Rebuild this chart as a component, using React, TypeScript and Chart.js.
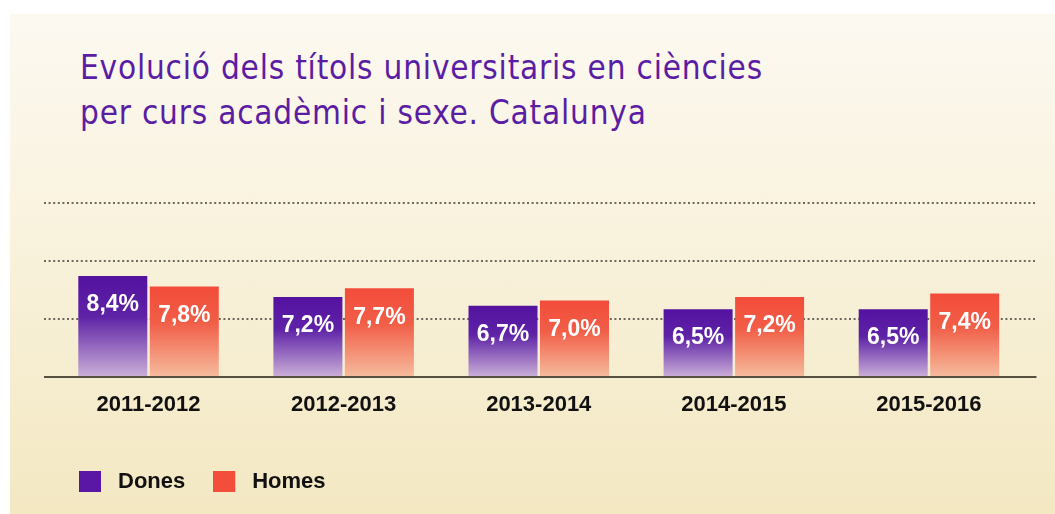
import React, { useEffect, useRef } from 'react';
import { Chart, registerables } from 'chart.js';

Chart.register(...registerables);

// ---- data ----
const categories = ['2011-2012', '2012-2013', '2013-2014', '2014-2015', '2015-2016'];
const seriesNames = ['Dones', 'Homes'];
const donesValues = [8.4, 7.2, 6.7, 6.5, 6.5];
const homesValues = [7.8, 7.7, 7.0, 7.2, 7.4];
const gridLevels = [5.93, 9.27, 12.6];
const axisMin = 2.6;
const axisMax = 12.6;
const titleLines = [
  'Evolució dels títols universitaris en ciències',
  'per curs acadèmic i sexe. Catalunya',
];

const PURPLE = '#5a16a4';
const RED = '#f24e3b';
const purpleStops: [number, string][] = [
  [0, '#5412a0'],
  [0.4, '#5e22a6'],
  [1, '#cbb0d8'],
];
const redStops: [number, string][] = [
  [0, '#f24c3a'],
  [0.4, '#f15e47'],
  [1, '#f6bc9e'],
];

function barGradient(stops: [number, string][], solid: string) {
  return (ctx: any) => {
    const chart = ctx.chart;
    if (!chart.chartArea || ctx.type !== 'data') return solid;
    const y = chart.scales.y;
    const top = y.getPixelForValue(ctx.raw);
    const bottom = y.getPixelForValue(axisMin);
    if (!isFinite(top) || !isFinite(bottom) || top === bottom) return solid;
    const g = chart.ctx.createLinearGradient(0, top, 0, bottom);
    stops.forEach(([o, c]) => g.addColorStop(o, c));
    return g;
  };
}

function squareIcon(color: string) {
  const c = document.createElement('canvas');
  c.width = 28;
  c.height = 21;
  const x = c.getContext('2d')!;
  x.fillStyle = color;
  x.fillRect(0, 0, 22, 21);
  return c;
}

const gridPlugin = {
  id: 'dottedGrid',
  beforeDatasetsDraw(chart: any) {
    const { ctx, chartArea } = chart;
    const y = chart.scales.y;
    ctx.save();
    ctx.strokeStyle = 'rgba(85,80,70,0.85)';
    ctx.lineWidth = 2;
    ctx.setLineDash([2, 2.6]);
    gridLevels.forEach((v) => {
      const py = Math.round(y.getPixelForValue(v));
      ctx.beginPath();
      ctx.moveTo(chartArea.left - 7, py);
      ctx.lineTo(chartArea.right + 11, py);
      ctx.stroke();
    });
    ctx.restore();
  },
  afterDatasetsDraw(chart: any) {
    const { ctx, chartArea } = chart;
    const y = chart.scales.y;
    const py = y.getPixelForValue(axisMin);
    ctx.save();
    ctx.strokeStyle = '#575041';
    ctx.lineWidth = 2;
    ctx.beginPath();
    ctx.moveTo(chartArea.left - 7, py);
    ctx.lineTo(chartArea.right + 10, py);
    ctx.stroke();

    // value labels inside bars
    ctx.fillStyle = '#ffffff';
    ctx.font = 'bold 23px "Liberation Sans Narrow", "Liberation Sans", Arial, sans-serif';
    ctx.textAlign = 'center';
    ctx.textBaseline = 'middle';
    chart.data.datasets.forEach((ds: any, i: number) => {
      const meta = chart.getDatasetMeta(i);
      meta.data.forEach((el: any, j: number) => {
        const v = ds.data[j] as number;
        const txt = v.toFixed(1).replace('.', ',') + '%';
        ctx.fillText(txt, el.x, el.y + 29);
      });
    });
    ctx.restore();
  },
};

export default function App() {
  const canvasRef = useRef<HTMLCanvasElement | null>(null);

  useEffect(() => {
    if (!canvasRef.current) return;
    const icons = [squareIcon(PURPLE), squareIcon(RED)];
    const chart = new Chart(canvasRef.current, {
      type: 'bar',
      data: {
        labels: categories,
        datasets: [
          {
            label: seriesNames[0],
            data: donesValues,
            backgroundColor: barGradient(purpleStops, PURPLE),
            borderWidth: 0,
            categoryPercentage: 0.733,
            barPercentage: 0.965,
          },
          {
            label: seriesNames[1],
            data: homesValues,
            backgroundColor: barGradient(redStops, RED),
            borderWidth: 0,
            categoryPercentage: 0.733,
            barPercentage: 0.965,
          },
        ],
      },
      options: {
        responsive: false,
        animation: false,
        devicePixelRatio: 1,
        layout: { padding: { top: 203, left: 51, right: 28.5, bottom: 11.5 } },
        scales: {
          x: {
            grid: { display: false, drawTicks: false },
            border: { display: false },
            ticks: {
              color: '#111111',
              padding: 14.8,
              autoSkip: false,
              maxRotation: 0,
              font: { family: '"Liberation Sans", Arial, sans-serif', size: 22, weight: 'bold', lineHeight: 1.2 },
            },
          },
          y: {
            display: false,
            min: axisMin,
            max: axisMax,
          },
        },
        plugins: {
          tooltip: { enabled: false },
          legend: {
            position: 'bottom',
            align: 'start',
            title: {
              display: true,
              text: '',
              font: { size: 1, lineHeight: 1 },
              padding: { top: 8.5, bottom: 0 },
            },
            labels: {
              usePointStyle: true,
              pointStyleWidth: 28,
              boxWidth: 28,
              boxHeight: 21,
              padding: 28,
              color: '#111111',
              font: { family: '"Liberation Sans", Arial, sans-serif', size: 22, weight: 'bold' },
              generateLabels: (ch: any) => {
                const items = Chart.defaults.plugins.legend.labels.generateLabels(ch);
                return items.map((it: any, i: number) => ({ ...it, pointStyle: icons[i] }));
              },
            },
          },
        },
      },
      plugins: [gridPlugin],
    } as any);
    return () => chart.destroy();
  }, []);

  return (
    <div
      style={{
        position: 'absolute',
        left: 0,
        top: 0,
        width: 1055,
        height: 514,
        background: '#ffffff',
        overflow: 'hidden',
      }}
    >
      <div
        style={{
          position: 'absolute',
          left: 10,
          top: 14,
          right: 0,
          bottom: 0,
          background: 'linear-gradient(to bottom, #fcf9f1 0%, #f8f1da 50%, #f3e8c2 100%)',
        }}
      />
      <div
        style={{
          position: 'absolute',
          left: 80,
          top: 45,
          fontFamily: '"Liberation Sans Narrow", "DejaVu Sans Condensed", "Liberation Sans", sans-serif',
          fontSize: 33,
          lineHeight: '45px',
          letterSpacing: '0.8px',
          color: '#5b1da3',
          whiteSpace: 'pre',
        }}
      >
        {titleLines.map((l, i) => (
          <div key={i}>{l}</div>
        ))}
      </div>
      <canvas
        ref={canvasRef}
        width={1055}
        height={514}
        style={{ position: 'absolute', left: 0, top: 0, display: 'block' }}
      />
    </div>
  );
}
